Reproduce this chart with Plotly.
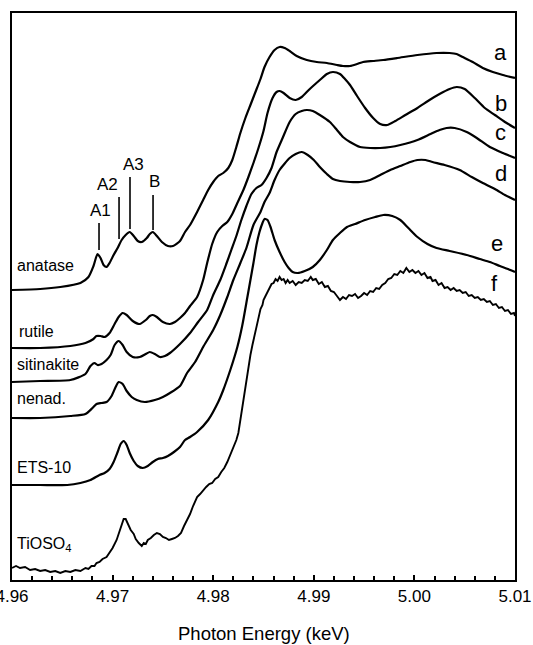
import plotly.graph_objects as go

# Ti K-edge XANES spectra, (photon energy in eV, normalised absorbance + vertical offset)
anatase = [
    (4960.0, 2.90), (4962.8, 2.91), (4964.8, 2.93), (4966.8, 2.97), (4967.6, 3.03),
    (4968.1, 3.14), (4968.5, 3.26), (4968.8, 3.22), (4969.1, 3.15), (4969.4, 3.13),
    (4969.7, 3.17), (4970.1, 3.25), (4970.5, 3.32), (4970.9, 3.40), (4971.3, 3.45),
    (4971.7, 3.48), (4972.1, 3.44), (4972.5, 3.39), (4972.9, 3.38), (4973.4, 3.42),
    (4973.7, 3.46), (4974.0, 3.48), (4974.4, 3.44), (4974.9, 3.38), (4975.5, 3.34),
    (4976.0, 3.34), (4976.7, 3.39), (4977.2, 3.48), (4977.7, 3.55), (4978.4, 3.68),
    (4979.0, 3.80), (4979.5, 3.90), (4980.0, 3.98), (4980.5, 4.04), (4981.0, 4.07),
    (4981.5, 4.12), (4981.9, 4.20), (4982.3, 4.33), (4982.7, 4.47), (4983.2, 4.62),
    (4983.7, 4.75), (4984.2, 4.88), (4984.7, 5.01), (4985.1, 5.13), (4985.6, 5.23),
    (4986.1, 5.30), (4986.6, 5.33), (4987.1, 5.32), (4987.6, 5.29), (4988.3, 5.24),
    (4989.3, 5.20), (4990.3, 5.18), (4991.3, 5.17), (4992.3, 5.15), (4992.9, 5.14),
    (4993.6, 5.14), (4994.3, 5.16), (4994.9, 5.18), (4995.9, 5.19), (4996.9, 5.20),
    (4998.3, 5.22), (5000.3, 5.25), (5002.2, 5.27), (5003.5, 5.27), (5004.2, 5.26),
    (5004.8, 5.23), (5005.8, 5.18), (5006.8, 5.12), (5007.8, 5.08), (5008.8, 5.05),
    (5010.0, 5.02),
]

rutile = [
    (4960.0, 2.32), (4962.8, 2.32), (4965.8, 2.34), (4967.3, 2.37), (4968.1, 2.41),
    (4968.4, 2.44), (4968.8, 2.44), (4969.2, 2.43), (4969.7, 2.47), (4970.2, 2.56),
    (4970.6, 2.63), (4971.0, 2.67), (4971.4, 2.65), (4972.0, 2.59), (4972.7, 2.56),
    (4973.3, 2.60), (4973.7, 2.64), (4974.0, 2.65), (4974.4, 2.63), (4975.0, 2.58),
    (4975.7, 2.56), (4976.2, 2.58), (4976.7, 2.62), (4977.2, 2.67), (4977.7, 2.74),
    (4978.4, 2.83), (4979.0, 3.00), (4979.4, 3.17), (4979.9, 3.36), (4980.4, 3.48),
    (4980.9, 3.54), (4981.4, 3.58), (4981.9, 3.66), (4982.4, 3.77), (4983.0, 3.90),
    (4983.5, 4.03), (4984.0, 4.17), (4984.5, 4.32), (4985.0, 4.49), (4985.4, 4.67),
    (4985.9, 4.82), (4986.3, 4.88), (4986.6, 4.89), (4987.0, 4.87), (4987.6, 4.82),
    (4988.2, 4.80), (4988.8, 4.83), (4989.6, 4.91), (4990.6, 5.00), (4991.3, 5.06),
    (4991.9, 5.08), (4992.6, 5.06), (4993.1, 5.01), (4993.6, 4.95), (4994.3, 4.84),
    (4995.1, 4.72), (4995.9, 4.62), (4996.6, 4.56), (4997.3, 4.55), (4998.1, 4.59),
    (4999.1, 4.65), (5000.3, 4.72), (5001.5, 4.80), (5002.5, 4.86), (5003.5, 4.91),
    (5004.2, 4.93), (5005.0, 4.91), (5006.0, 4.82), (5007.0, 4.72), (5008.0, 4.65),
    (5009.0, 4.58), (5010.0, 4.52),
]

sitinakite = [
    (4960.0, 1.98), (4962.8, 1.99), (4965.8, 2.00), (4967.3, 2.06), (4967.8, 2.14),
    (4968.2, 2.17), (4968.5, 2.15), (4968.9, 2.16), (4969.4, 2.20), (4969.8, 2.25),
    (4970.2, 2.35), (4970.6, 2.39), (4971.0, 2.35), (4971.4, 2.28), (4972.0, 2.23),
    (4972.7, 2.23), (4973.3, 2.26), (4973.7, 2.28), (4974.2, 2.26), (4974.7, 2.23),
    (4975.2, 2.24), (4975.7, 2.27), (4976.7, 2.36), (4977.7, 2.47), (4978.5, 2.58),
    (4979.4, 2.70), (4980.0, 2.85), (4980.7, 3.00), (4981.3, 3.16), (4981.8, 3.30),
    (4982.3, 3.44), (4982.8, 3.60), (4983.3, 3.74), (4983.8, 3.86), (4984.3, 3.92),
    (4984.8, 3.95), (4985.3, 4.02), (4985.8, 4.12), (4986.3, 4.28), (4986.9, 4.42),
    (4987.6, 4.58), (4988.2, 4.66), (4988.8, 4.69), (4989.3, 4.70), (4989.9, 4.69),
    (4990.6, 4.65), (4991.6, 4.58), (4992.3, 4.50), (4992.9, 4.43), (4993.6, 4.38),
    (4994.6, 4.33), (4995.6, 4.32), (4996.6, 4.32), (4997.6, 4.33), (4998.6, 4.35),
    (5000.3, 4.40), (5001.6, 4.46), (5002.5, 4.50), (5003.2, 4.52), (5004.0, 4.52),
    (5005.2, 4.48), (5006.2, 4.42), (5007.5, 4.33), (5008.8, 4.27), (5010.0, 4.22),
]

nenadkevichite = [
    (4960.0, 1.62), (4962.8, 1.62), (4965.8, 1.64), (4967.3, 1.66), (4968.0, 1.72),
    (4968.4, 1.76), (4968.9, 1.77), (4969.4, 1.78), (4969.9, 1.84), (4970.3, 1.93),
    (4970.6, 1.98), (4971.0, 1.96), (4971.4, 1.89), (4971.9, 1.83), (4972.4, 1.80),
    (4973.2, 1.78), (4974.2, 1.80), (4975.0, 1.83), (4975.7, 1.87), (4976.7, 1.94),
    (4977.4, 2.07), (4978.2, 2.18), (4979.0, 2.33), (4980.0, 2.50), (4980.7, 2.65),
    (4981.4, 2.83), (4982.0, 3.00), (4982.7, 3.17), (4983.3, 3.32), (4984.0, 3.55),
    (4984.7, 3.68), (4985.1, 3.78), (4985.6, 3.87), (4986.1, 4.00), (4986.6, 4.10),
    (4987.6, 4.22), (4988.2, 4.26), (4988.8, 4.28), (4989.4, 4.25), (4990.0, 4.20),
    (4990.6, 4.13), (4991.3, 4.06), (4991.9, 4.01), (4992.6, 3.99), (4993.6, 3.98),
    (4994.6, 3.98), (4995.6, 4.00), (4996.6, 4.05), (4997.6, 4.10), (4998.6, 4.14),
    (4999.6, 4.18), (5000.3, 4.20), (5001.1, 4.20), (5001.8, 4.18), (5003.0, 4.15),
    (5004.5, 4.10), (5005.7, 4.03), (5006.8, 3.97), (5008.0, 3.91), (5009.0, 3.85),
    (5010.0, 3.80),
]

ets10 = [
    (4960.0, 0.95), (4962.8, 0.95), (4965.5, 0.95), (4966.8, 0.97), (4967.8, 1.00),
    (4968.7, 1.05), (4969.2, 1.07), (4969.7, 1.11), (4970.1, 1.18), (4970.5, 1.28),
    (4970.8, 1.36), (4971.1, 1.39), (4971.4, 1.35), (4971.7, 1.27), (4972.1, 1.19),
    (4972.5, 1.14), (4973.0, 1.12), (4973.5, 1.14), (4974.0, 1.18), (4974.5, 1.21),
    (4975.0, 1.22), (4975.5, 1.24), (4976.1, 1.28), (4976.7, 1.33), (4977.2, 1.40),
    (4977.7, 1.43), (4978.4, 1.48), (4979.5, 1.60), (4980.5, 1.78), (4981.0, 1.90),
    (4981.7, 2.10), (4982.4, 2.33), (4982.9, 2.55), (4983.4, 2.83), (4983.7, 3.00),
    (4984.0, 3.17), (4984.3, 3.35), (4984.6, 3.48), (4984.9, 3.57), (4985.1, 3.61),
    (4985.4, 3.60), (4985.7, 3.53), (4986.1, 3.40), (4986.6, 3.28), (4987.1, 3.18),
    (4987.5, 3.12), (4987.9, 3.08), (4988.4, 3.07), (4989.1, 3.09), (4989.9, 3.13),
    (4990.6, 3.20), (4991.3, 3.30), (4991.9, 3.40), (4992.6, 3.47), (4993.3, 3.53),
    (4994.1, 3.56), (4995.1, 3.60), (4996.1, 3.63), (4996.9, 3.65), (4997.8, 3.64),
    (4998.6, 3.60), (4999.4, 3.52), (5000.3, 3.43), (5001.3, 3.36), (5002.2, 3.32),
    (5003.5, 3.29), (5005.2, 3.25), (5006.5, 3.21), (5007.5, 3.18), (5008.5, 3.14),
    (5009.3, 3.11), (5010.0, 3.08),
]

tioso4 = [
    (4960.0, 0.12), (4960.4, 0.14), (4960.8, 0.12), (4961.3, 0.13), (4961.8, 0.10),
    (4962.3, 0.11), (4962.8, 0.09), (4963.3, 0.10), (4963.8, 0.08), (4964.3, 0.09),
    (4964.8, 0.07), (4965.3, 0.09), (4965.8, 0.08), (4966.3, 0.10), (4966.8, 0.09),
    (4967.3, 0.12), (4967.6, 0.11), (4967.9, 0.14), (4968.2, 0.14), (4968.4, 0.17),
    (4968.7, 0.18), (4969.0, 0.21), (4969.4, 0.23), (4969.7, 0.27), (4970.0, 0.32),
    (4970.4, 0.40), (4970.8, 0.53), (4971.1, 0.61), (4971.3, 0.61), (4971.5, 0.57),
    (4971.8, 0.50), (4972.1, 0.46), (4972.3, 0.41), (4972.6, 0.37), (4972.9, 0.34),
    (4973.1, 0.37), (4973.3, 0.36), (4973.5, 0.40), (4973.8, 0.42), (4974.1, 0.45),
    (4974.4, 0.47), (4974.7, 0.46), (4975.0, 0.43), (4975.3, 0.42), (4975.6, 0.40),
    (4975.9, 0.41), (4976.2, 0.42), (4976.5, 0.44), (4976.8, 0.47), (4977.1, 0.54),
    (4977.4, 0.60), (4977.7, 0.66), (4978.0, 0.74), (4978.4, 0.83), (4978.7, 0.86),
    (4979.0, 0.90), (4979.3, 0.93), (4979.6, 0.96), (4979.9, 0.97), (4980.2, 1.01),
    (4980.5, 1.03), (4980.8, 1.08), (4981.1, 1.12), (4981.4, 1.18), (4981.7, 1.25),
    (4982.0, 1.32), (4982.3, 1.40), (4982.5, 1.47), (4982.7, 1.60), (4982.9, 1.75),
    (4983.1, 1.88), (4983.3, 2.00), (4983.5, 2.12), (4983.7, 2.25), (4983.9, 2.35),
    (4984.1, 2.44), (4984.3, 2.54), (4984.5, 2.64), (4984.7, 2.71), (4984.9, 2.75),
    (4985.0, 2.80), (4985.2, 2.84), (4985.4, 2.88), (4985.6, 2.91), (4985.8, 2.96),
    (4986.0, 2.97), (4986.2, 3.01), (4986.4, 2.99), (4986.6, 3.03), (4986.8, 3.00),
    (4987.0, 3.01), (4987.2, 2.97), (4987.4, 3.00), (4987.6, 2.97), (4987.9, 2.99),
    (4988.2, 2.95), (4988.5, 2.98), (4988.8, 2.97), (4989.1, 3.00), (4989.4, 2.99),
    (4989.7, 3.03), (4989.9, 3.00), (4990.2, 3.01), (4990.5, 2.96), (4990.8, 2.98),
    (4991.1, 2.93), (4991.4, 2.94), (4991.7, 2.89), (4992.0, 2.88), (4992.3, 2.84),
    (4992.6, 2.80), (4992.9, 2.83), (4993.2, 2.81), (4993.5, 2.85), (4993.8, 2.84),
    (4994.1, 2.86), (4994.4, 2.82), (4994.7, 2.84), (4995.0, 2.87), (4995.3, 2.85),
    (4995.6, 2.89), (4995.9, 2.88), (4996.2, 2.92), (4996.5, 2.91), (4996.8, 2.95),
    (4997.1, 2.97), (4997.4, 3.01), (4997.7, 3.02), (4998.0, 3.06), (4998.3, 3.05),
    (4998.6, 3.09), (4998.9, 3.07), (4999.2, 3.12), (4999.5, 3.08), (4999.8, 3.10),
    (5000.1, 3.07), (5000.4, 3.09), (5000.7, 3.05), (5001.0, 3.07), (5001.3, 3.02),
    (5001.6, 3.03), (5001.8, 2.99), (5002.1, 3.00), (5002.4, 2.95), (5002.7, 2.97),
    (5003.0, 2.92), (5003.3, 2.93), (5003.6, 2.90), (5003.9, 2.92), (5004.2, 2.89),
    (5004.5, 2.90), (5004.8, 2.87), (5005.1, 2.88), (5005.4, 2.84), (5005.7, 2.85),
    (5006.0, 2.82), (5006.3, 2.83), (5006.6, 2.80), (5006.9, 2.81), (5007.2, 2.78),
    (5007.5, 2.79), (5007.8, 2.75), (5008.1, 2.76), (5008.4, 2.72), (5008.7, 2.73),
    (5009.0, 2.69), (5009.3, 2.70), (5009.6, 2.66), (5009.9, 2.67), (5010.0, 2.64),
]

sample_names = ["anatase", "rutile", "sitinakite", "nenad.", "ETS-10", "TiOSO<sub>4</sub>"]
curve_letters = ["a", "b", "c", "d", "e", "f"]
spectra = [anatase, rutile, sitinakite, nenadkevichite, ets10, tioso4]

# pre-edge features marked on the anatase spectrum
feature_names = ["A1", "A2", "A3", "B"]
feature_energy = [4968.65, 4970.64, 4971.73, 4974.02]

tick_values = [4.96, 4.97, 4.98, 4.99, 5.00, 5.01]
tick_text = ["4.96", "4.97", "4.98", "4.99", "5.00", "5.01"]

FONT = "Liberation Sans, Arial, sans-serif"

fig = go.Figure()
for i, spec in enumerate(spectra):
    energy_kev = [e / 1000.0 for e, _ in spec]
    absorb = [v for _, v in spec]
    noisy = i == 5
    fig.add_trace(go.Scatter(
        x=energy_kev, y=absorb, mode="lines",
        line=dict(color="black", width=2.2 if not noisy else 1.9,
                  shape="linear" if noisy else "spline",
                  smoothing=None if noisy else 0.6),
        hoverinfo="skip", showlegend=False,
    ))

annotations = []
shapes = []

# sample names on the left, curve letters on the right
name_pos = [(4960.3, 3.15), (4960.5, 2.49), (4960.3, 2.16), (4960.3, 1.82),
            (4960.3, 1.13), (4960.3, 0.36)]
for name, (ex, ey) in zip(sample_names, name_pos):
    annotations.append(dict(x=ex / 1000.0, y=ey, xref="x", yref="y", text=name,
                            showarrow=False, xanchor="left", yanchor="middle",
                            font=dict(family=FONT, size=16, color="black")))

letter_pos = [(5008.6, 5.28), (5008.6, 4.77), (5008.6, 4.48), (5008.6, 4.07),
              (5008.2, 3.37), (5008.0, 2.97)]
for letter, (ex, ey) in zip(curve_letters, letter_pos):
    annotations.append(dict(x=ex / 1000.0, y=ey, xref="x", yref="y", text=letter,
                            showarrow=False, xanchor="center", yanchor="middle",
                            font=dict(family=FONT, size=22, color="black")))

# feature marker lines and their labels
marker_span = [(3.30, 3.57), (3.41, 3.83), (3.51, 4.03), (3.50, 3.85)]
label_pos = [(4968.75, 3.70), (4969.45, 3.96), (4972.05, 4.16), (4974.2, 3.99)]
for name, e, (y0, y1), (lx, ly) in zip(feature_names, feature_energy, marker_span, label_pos):
    shapes.append(dict(type="line", xref="x", yref="y", x0=e / 1000.0, x1=e / 1000.0,
                       y0=y0, y1=y1, line=dict(color="black", width=1.6)))
    annotations.append(dict(x=lx / 1000.0, y=ly, xref="x", yref="y", text=name,
                            showarrow=False, xanchor="center", yanchor="middle",
                            font=dict(family=FONT, size=17, color="black")))

annotations.append(dict(x=0.5, y=-0.094, xref="paper", yref="paper",
                        text="Photon Energy (keV)", showarrow=False,
                        xanchor="center", yanchor="middle",
                        font=dict(family=FONT, size=18.5, color="black")))

tick_style = dict(ticks="inside", ticklen=5, tickwidth=1.5, tickcolor="black",
                  minor=dict(dtick=0.002, tick0=4.96, ticks="inside", ticklen=4,
                             tickwidth=1.5, tickcolor="black", showgrid=False))

fig.update_layout(
    width=533, height=645,
    margin=dict(l=12, r=18, t=13, b=65, autoexpand=False),
    paper_bgcolor="white", plot_bgcolor="white",
    showlegend=False,
    annotations=annotations, shapes=shapes,
    xaxis=dict(
        range=[4.96, 5.01], tickvals=tick_values, ticktext=tick_text,
        showline=True, linecolor="black", linewidth=2, mirror=True,
        showgrid=False, zeroline=False, automargin=False,
        ticklabeloverflow="allow",
        tickfont=dict(family=FONT, size=17, color="black"),
        **tick_style,
    ),
    # energy scale repeated along the top edge (ticks only)
    xaxis2=dict(
        range=[4.96, 5.01], tickvals=tick_values, overlaying="x", side="top",
        anchor="y", showticklabels=False, showline=False,
        showgrid=False, zeroline=False, automargin=False,
        **tick_style,
    ),
    yaxis=dict(
        range=[0, 5.67], showticklabels=False, ticks="",
        showline=True, linecolor="black", linewidth=2, mirror=True,
        showgrid=False, zeroline=False, automargin=False,
    ),
)

fig.write_html("out.html")
